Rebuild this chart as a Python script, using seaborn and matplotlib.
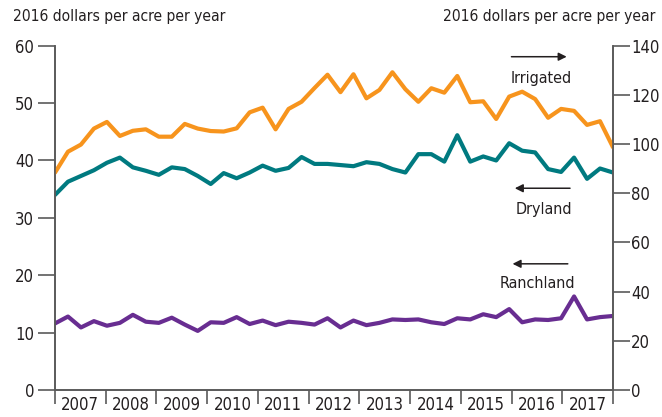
import numpy as np
import pandas as pd
import matplotlib
matplotlib.use("Agg")
import matplotlib.pyplot as plt
import seaborn as sns

# quarterly cash rents, 2007Q1 - 2017Q4 (2016 dollars per acre per year)
irrigated = [88.4, 96.9, 99.8, 106.3, 109.0, 103.3, 105.4, 106.0, 103.0, 103.0, 108.2,
             106.3, 105.3, 105.1, 106.4, 112.9, 114.8, 106.0, 114.3, 117.2, 122.8, 128.2,
             121.1, 128.4, 118.6, 122.0, 129.2, 122.3, 117.2, 122.7, 120.9, 127.7, 117.0,
             117.4, 110.2, 119.3, 121.3, 118.3, 110.7, 114.3, 113.5, 107.8, 109.3, 98.7]
dryland = [34.0, 36.3, 37.3, 38.3, 39.6, 40.5, 38.8, 38.2, 37.5, 38.8, 38.5,
           37.3, 35.9, 37.8, 36.9, 37.9, 39.1, 38.2, 38.7, 40.6, 39.4, 39.4,
           39.2, 39.0, 39.7, 39.4, 38.5, 37.9, 41.1, 41.1, 39.8, 44.4, 39.8,
           40.7, 40.0, 43.0, 41.7, 41.4, 38.5, 38.0, 40.5, 36.8, 38.6, 37.9]
ranchland = [11.6, 12.8, 10.9, 12.0, 11.2, 11.7, 13.1, 11.9, 11.7, 12.6, 11.4,
             10.3, 11.8, 11.7, 12.7, 11.5, 12.1, 11.3, 11.9, 11.7, 11.4, 12.5,
             10.9, 12.1, 11.3, 11.7, 12.3, 12.2, 12.3, 11.8, 11.5, 12.5, 12.3,
             13.2, 12.7, 14.1, 11.8, 12.3, 12.2, 12.5, 16.3, 12.3, 12.7, 12.9]
years = list(range(2007, 2018))

n = len(irrigated)
df = pd.DataFrame({
    "t": 2007 + np.arange(n) * 11 / (n - 1),
    "Irrigated": irrigated,
    "Dryland": dryland,
    "Ranchland": ranchland,
})

sns.set_style("ticks")
plt.rcParams["font.family"] = ["DejaVu Sans"]
plt.rcParams["font.stretch"] = "condensed"

orange = "#F7941D"
teal = "#007A80"
purple = "#682D91"
grey = "#5a5a5a"
ink = "#231F20"
fs = 12

fig = plt.figure(figsize=(6.62, 4.17), dpi=100)
ax = fig.add_axes([55 / 662, 1 - 390 / 417, 558 / 662, 344.3 / 417])
ax2 = ax.twinx()

sns.lineplot(data=df, x="t", y="Dryland", ax=ax, color=teal, lw=3)
sns.lineplot(data=df, x="t", y="Ranchland", ax=ax, color=purple, lw=3)
sns.lineplot(data=df, x="t", y="Irrigated", ax=ax2, color=orange, lw=3)

ax.set_xlim(2007, 2018)
ax.set_ylim(0, 60)
ax2.set_ylim(0, 140)
ax.set_yticks(range(0, 61, 10))
ax2.set_yticks(range(0, 141, 20))
ax.set_xticks(range(2007, 2019))
ax.set_xticklabels([])
ax.set_xticks([y + 0.5 for y in years], minor=True)
ax.set_xticklabels([str(y) for y in years], minor=True)
for a in (ax, ax2):
    a.set_xlabel("")
    a.set_ylabel("")

ax.tick_params(axis="y", length=12, width=1.2, color=grey, labelsize=fs, pad=3, labelcolor=ink)
ax2.tick_params(axis="y", length=12, width=1.2, color=grey, labelsize=fs, pad=1, labelcolor=ink)
ax.tick_params(axis="x", which="major", length=10, width=1.2, color=grey)
ax.tick_params(axis="x", which="minor", length=0, labelsize=fs, pad=4.5, labelcolor=ink)

for a in (ax, ax2):
    a.spines["top"].set_visible(False)
    for s in ("left", "right", "bottom"):
        a.spines[s].set_visible(True)
        a.spines[s].set_color(grey)
        a.spines[s].set_linewidth(1.2)

fig.text(13 / 662, 1 - 17 / 417, "2016 dollars per acre per year", fontsize=11.2,
         color=ink, ha="left", va="center")
fig.text(655 / 662, 1 - 17 / 417, "2016 dollars per acre per year", fontsize=11.2,
         color=ink, ha="right", va="center")

afs = 11.5
arrow = dict(arrowstyle="-|>", color=ink, lw=1.1, mutation_scale=12, shrinkA=0, shrinkB=0)
ax.annotate("", xy=(0.917, 0.968), xytext=(0.818, 0.968), xycoords="axes fraction",
            arrowprops=arrow)
ax.text(0.871, 0.905, "Irrigated", transform=ax.transAxes, fontsize=afs, color=ink,
        ha="center", va="center")
ax.annotate("", xy=(0.824, 0.586), xytext=(0.923, 0.586), xycoords="axes fraction",
            arrowprops=arrow)
ax.text(0.876, 0.525, "Dryland", transform=ax.transAxes, fontsize=afs, color=ink,
        ha="center", va="center")
ax.annotate("", xy=(0.820, 0.3665), xytext=(0.919, 0.3665), xycoords="axes fraction",
            arrowprops=arrow)
ax.text(0.864, 0.308, "Ranchland", transform=ax.transAxes, fontsize=afs, color=ink,
        ha="center", va="center")

fig.savefig("out.png", dpi=100)
